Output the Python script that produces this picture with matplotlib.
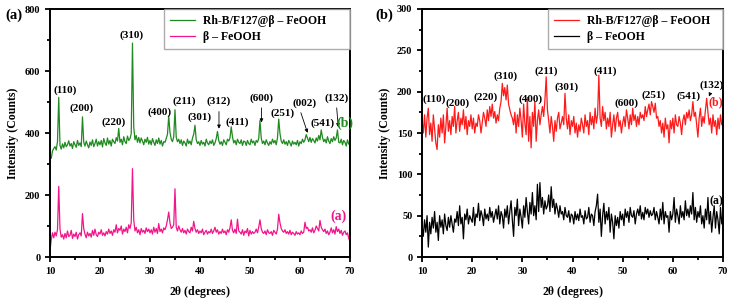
import numpy as np
import matplotlib
matplotlib.use("Agg")
import matplotlib.pyplot as plt
from matplotlib.ticker import MultipleLocator

plt.rcParams['font.family'] = ['Liberation Serif', 'DejaVu Serif']
plt.rcParams['font.weight'] = 'bold'
plt.rcParams['mathtext.fontset'] = 'stix'

# 2theta sampling grid (0.25 deg steps, 10..70)
two_theta = np.round(np.arange(10, 70.001, 0.25), 2)

# left panel: Rh-B/F127@beta-FeOOH (green), 4 points per degree
green_vals = [
    330, 318, 342, 350, 356, 345, 372, 515, 360, 348, 365, 352, 370, 356, 362, 375,
    358, 366, 350, 372, 362, 354, 376, 360, 368, 356, 452, 370, 358, 374, 362, 352,
    371, 360, 378, 356, 366, 380, 358, 372, 362, 376, 355, 382, 368, 360, 384, 364,
    376, 358, 380, 372, 366, 385, 374, 415, 370, 380, 362, 388, 372, 366, 390, 376,
    382, 398, 690, 420, 378, 392, 370, 386, 368, 384, 374, 362, 380, 370, 386, 364,
    376, 362, 382, 370, 360, 378, 366, 384, 364, 376, 358, 372, 370, 382, 396, 455,
    402, 380, 372, 388, 475, 386, 372, 380, 366, 378, 360, 374, 368, 358, 380, 366,
    374, 362, 384, 396, 425, 378, 366, 372, 360, 376, 364, 370, 358, 380, 368, 362,
    374, 366, 378, 360, 368, 382, 405, 376, 364, 372, 360, 378, 370, 362, 380, 374,
    384, 420, 388, 368, 376, 362, 380, 370, 366, 378, 360, 374, 372, 360, 376, 366,
    362, 380, 368, 374, 360, 376, 370, 382, 440, 384, 366, 374, 362, 378, 368, 360,
    372, 364, 380, 368, 376, 362, 384, 445, 398, 374, 366, 378, 364, 372, 360, 376,
    368, 358, 374, 364, 370, 362, 376, 358, 372, 366, 380, 370, 378, 395, 384, 372,
    386, 370, 382, 376, 368, 384, 374, 392, 378, 410, 386, 372, 380, 368, 388, 374,
    366, 382, 372, 388, 376, 384, 410, 370, 368, 380, 362, 376, 370, 358, 378, 364,
    372,
]

# left panel: beta-FeOOH (pink)
pink_vals = [
    20, 55, 78, 62, 80, 68, 88, 228, 90, 64, 72, 58, 76, 62, 84, 66,
    70, 86, 60, 74, 66, 80, 58, 72, 78, 68, 140, 92, 74, 62, 80, 68,
    76, 64, 86, 70, 90, 72, 66, 80, 74, 88, 70, 78, 68, 82, 74, 90,
    76, 84, 70, 88, 80, 104, 78, 92, 86, 100, 74, 90, 82, 96, 78, 104,
    92, 110, 285, 120, 84, 96, 78, 88, 72, 92, 80, 86, 76, 94, 82, 90,
    78, 88, 74, 96, 80, 92, 76, 108, 82, 90, 78, 94, 88, 100, 120, 145,
    110, 92, 96, 104, 220, 96, 84, 100, 88, 80, 92, 78, 86, 74, 90, 82,
    78, 96, 84, 115, 92, 80, 88, 76, 84, 78, 90, 72, 80, 86, 74, 82,
    78, 90, 76, 84, 96, 80, 88, 74, 82, 76, 90, 78, 84, 72, 88, 80,
    94, 120, 86, 78, 90, 76, 122, 84, 80, 74, 88, 70, 84, 78, 92, 68,
    86, 74, 82, 76, 80, 90, 78, 96, 120, 92, 80, 76, 84, 72, 88, 78,
    76, 82, 70, 86, 80, 74, 90, 138, 110, 92, 84, 80, 88, 76, 82, 74,
    86, 72, 80, 76, 70, 82, 74, 78, 72, 84, 76, 80, 112, 92, 96, 84,
    88, 80, 94, 78, 86, 100, 92, 84, 118, 96, 88, 82, 90, 76, 84, 72,
    80, 94, 78, 88, 74, 98, 82, 90, 76, 86, 70, 80, 84, 72, 78, 60,
    50,
]

# right panel: Rh-B/F127@beta-FeOOH (red)
red_vals = [
    165, 150, 172, 145, 168, 180, 148, 162, 140, 172, 155, 138, 130, 160, 145, 168,
    150, 172, 138, 158, 180, 152, 165, 148, 170, 158, 182, 150, 165, 175, 152, 168,
    160, 178, 155, 170, 148, 165, 158, 172, 155, 168, 150, 162, 158, 172, 165, 150,
    162, 175, 168, 158, 178, 165, 182, 170, 185, 168, 176, 162, 172, 165, 180, 188,
    210, 195, 205, 190, 208, 185, 178, 172, 168, 160, 175, 150, 172, 158, 180, 165,
    145, 185, 162, 148, 193, 140, 170, 132, 175, 158, 188, 140, 165, 178, 160, 172,
    182, 170, 190, 218, 178, 165, 150, 170, 158, 140, 165, 152, 168, 175, 155, 162,
    170, 160, 198, 168, 155, 172, 148, 165, 158, 170, 150, 162, 145, 160, 152, 168,
    160, 150, 172, 158, 165, 148, 175, 160, 170, 155, 180, 162, 172, 220, 168, 158,
    182, 165, 175, 155, 168, 158, 175, 145, 160, 172, 152, 168, 175, 158, 165, 150,
    162, 170, 158, 178, 168, 155, 172, 160, 180, 165, 172, 158, 170, 160, 175, 168,
    172, 165, 182, 170, 178, 185, 172, 188, 182, 175, 186, 168, 170, 158, 165, 150,
    162, 145, 168, 155, 160, 138, 165, 155, 168, 150, 172, 160, 158, 170, 162, 148,
    165, 172, 160, 175, 168, 178, 165, 172, 188, 170, 175, 160, 145, 168, 180, 158,
    170, 162, 178, 192, 175, 160, 168, 150, 172, 158, 165, 148, 168, 155, 172, 160,
    165,
]

# right panel: beta-FeOOH (black)
black_vals = [
    38, 25, 45, 30, 50, 12, 42, 28, 48, 35, 55, 30, 42, 20, 50, 36,
    45, 28, 52, 38, 32, 48, 36, 50, 40, 30, 46, 42, 55, 38, 62, 40,
    48, 22, 52, 45, 58, 40, 50, 46, 42, 60, 38, 52, 48, 65, 44, 56,
    50, 38, 58, 46, 52, 44, 60, 48, 55, 42, 50, 58, 46, 62, 40, 55,
    50, 35, 58, 48, 62, 40, 55, 68, 45, 25, 60, 50, 70, 38, 58, 48,
    35, 62, 48, 72, 55, 40, 66, 52, 78, 50, 62, 45, 88, 55, 90, 60,
    72, 52, 68, 58, 62, 75, 55, 85, 60, 70, 52, 65, 58, 48, 62, 52,
    55, 45, 60, 50, 48, 56, 42, 52, 50, 40, 55, 45, 52, 44, 58, 48,
    50, 40, 56, 46, 48, 60, 42, 52, 50, 38, 55, 62, 76, 42, 58, 25,
    50, 65, 40, 55, 45, 60, 30, 52, 42, 22, 50, 38, 48, 35, 55, 45,
    52, 38, 58, 48, 55, 42, 60, 50, 48, 56, 40, 52, 58, 50, 62, 46,
    54, 45, 60, 52, 58, 48, 56, 50, 52, 60, 45, 55, 48, 40, 58, 45,
    66, 40, 55, 48, 50, 30, 55, 45, 52, 72, 42, 58, 50, 40, 62, 48,
    55, 45, 68, 50, 58, 48, 62, 52, 78, 45, 60, 42, 55, 48, 62, 40,
    50, 35, 58, 45, 72, 40, 55, 30, 48, 62, 35, 55, 45, 28, 60, 40,
    52,
]

# peak labels: (text, x, y)
left_peaks = [("(110)", 13.1, 538), ("(200)", 16.3, 480), ("(220)", 22.8, 436),
              ("(310)", 26.3, 716), ("(400)", 32.0, 468), ("(211)", 36.9, 504),
              ("(301)", 39.9, 450), ("(312)", 43.8, 501), ("(411)", 47.5, 436),
              ("(600)", 52.3, 512), ("(251)", 56.5, 463), ("(002)", 60.9, 496),
              ("(541)", 64.5, 431), ("(132)", 67.3, 512)]
left_arrows = [((43.8, 478), (43.8, 405)), ((52.3, 490), (52.3, 425)),
               ((60.0, 474), (61.7, 392)), ((67.3, 490), (67.7, 410))]

right_peaks = [("(110)", 12.4, 191), ("(200)", 17.0, 186), ("(220)", 22.6, 193),
               ("(310)", 26.7, 219), ("(400)", 31.7, 191), ("(211)", 34.7, 225),
               ("(301)", 38.8, 205), ("(411)", 46.6, 225), ("(600)", 50.8, 186),
               ("(251)", 56.1, 196), ("(541)", 63.2, 195), ("(132)", 67.7, 208)]
right_arrows = [((67.6, 200), (67.0, 191))]

green = '#1f8a1f'
pink = '#f2158a'
red = '#ff1a1a'

fig = plt.figure(figsize=(7.34, 3.0), dpi=100)
ax1 = fig.add_axes([0.0681, 0.1433, 0.4087, 0.8267])
ax2 = fig.add_axes([0.5750, 0.1433, 0.4100, 0.8267])


def style(ax, ymax, ymajor, leg_x0):
    ax.set_xlim(10, 70)
    ax.set_ylim(0, ymax)
    ax.xaxis.set_major_locator(MultipleLocator(10))
    ax.xaxis.set_minor_locator(MultipleLocator(5))
    ax.yaxis.set_major_locator(MultipleLocator(ymajor))
    ax.yaxis.set_minor_locator(MultipleLocator(ymajor / 2))
    ax.tick_params(which='both', direction='out', width=1.3, labelsize=7.5)
    ax.tick_params(which='major', length=3.5)
    ax.tick_params(which='minor', length=2.5)
    for lab in ax.get_xticklabels() + ax.get_yticklabels():
        lab.set_fontweight('bold')
    for sp in ax.spines.values():
        sp.set_linewidth(1.4)
    ax.set_xlabel(r'2$\mathbf{\theta}$ (degrees)', fontsize=8.5, fontweight='bold', labelpad=6)
    ax.set_ylabel('Intensity (Counts)', fontsize=8.5, fontweight='bold', labelpad=4)
    ax.legend(loc='upper right', bbox_to_anchor=(leg_x0, 0.86, 1 - leg_x0, 0.14),
              mode='expand', frameon=True, fancybox=False,
              edgecolor='#999999', borderaxespad=0.0, handlelength=2.1,
              handletextpad=0.7, borderpad=0.5, labelspacing=0.35,
              prop={'weight': 'bold', 'size': 8.5})


# left panel
ax1.plot(two_theta, green_vals, color=green, lw=0.9, label='Rh-B/F127@β – FeOOH')
ax1.plot(two_theta, pink_vals, color=pink, lw=0.9, label='β – FeOOH')
style(ax1, 800, 200, 0.38)
for txt, x, y in left_peaks:
    ax1.text(x, y, txt, fontsize=8, fontweight='bold', ha='center', va='center')
for (x0, y0), (x1, y1) in left_arrows:
    ax1.annotate('', xy=(x1, y1), xytext=(x0, y0),
                 arrowprops=dict(arrowstyle='-|>', lw=0.6, color='black', mutation_scale=5))
ax1.text(67.7, 130, '(a)', color=pink, fontsize=10, fontweight='bold', ha='center', va='center')
ax1.text(68.9, 433, '(b)', color=green, fontsize=10, fontweight='bold', ha='center', va='center')

# right panel
ax2.plot(two_theta, red_vals, color=red, lw=0.9, label='Rh-B/F127@β – FeOOH')
ax2.plot(two_theta, black_vals, color='black', lw=0.9, label='β – FeOOH')
style(ax2, 300, 50, 0.42)
ax2.yaxis.set_minor_locator(MultipleLocator(25))
for txt, x, y in right_peaks:
    ax2.text(x, y, txt, fontsize=8, fontweight='bold', ha='center', va='center')
for (x0, y0), (x1, y1) in right_arrows:
    ax2.annotate('', xy=(x1, y1), xytext=(x0, y0),
                 arrowprops=dict(arrowstyle='-|>', lw=0.6, color='black', mutation_scale=5))
ax2.text(68.6, 187, '(b)', color=red, fontsize=8.5, fontweight='bold', ha='center', va='center')
ax2.text(68.7, 67, '(a)', color='black', fontsize=8.5, ha='center', va='center')

# panel letters
fig.text(0.007, 0.95, '(a)', fontsize=10.5, fontweight='bold', ha='left', va='center')
fig.text(0.511, 0.95, '(b)', fontsize=10.5, fontweight='bold', ha='left', va='center')

fig.savefig('out.png', dpi=100)
